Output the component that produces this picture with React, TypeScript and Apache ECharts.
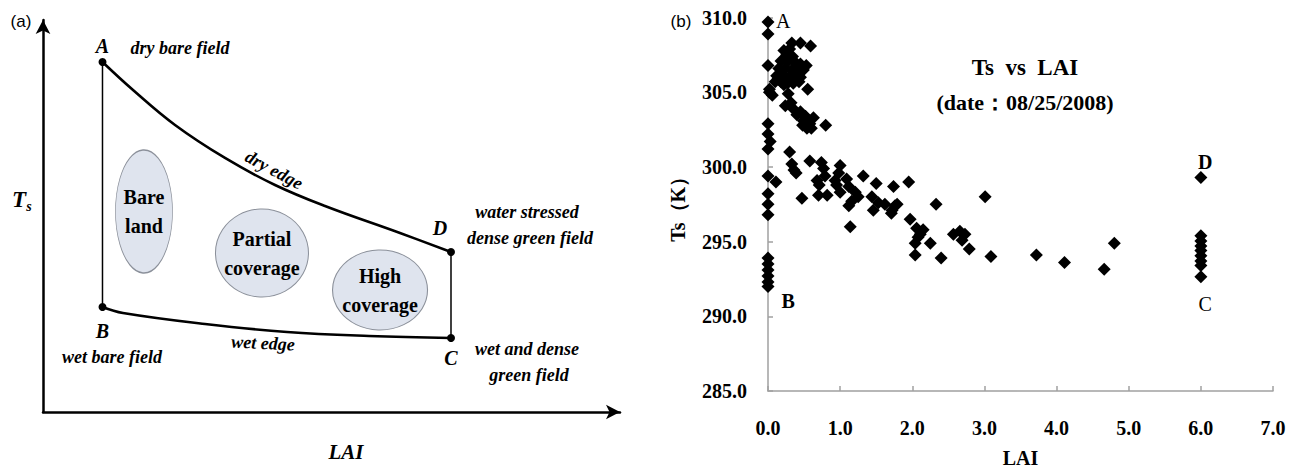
import { useEffect, useRef } from 'react';
import * as echarts from 'echarts';

const SERIF = '"Liberation Serif", "Times New Roman", serif';
const SANS = '"Liberation Sans", Arial, sans-serif';

// ---------- Panel (b): Ts vs LAI scatter ----------
const xTickRange = [0, 7];
const yTickRange = [285, 310];

const tsVsLai: [number, number][] = [
  // LAI ~ 0 column
  [0.0, 309.7], [0.0, 308.9], [0.0, 306.8], [0.02, 305.2], [0.06, 304.8], [0.02, 305.0],
  [0.0, 302.9], [0.0, 302.2], [0.03, 301.7], [0.0, 301.2], [0.0, 299.4], [0.0, 298.2],
  [0.0, 297.5], [0.0, 296.8], [0.0, 293.9], [0.0, 293.5], [0.0, 293.1], [0.0, 292.7],
  [0.0, 292.3], [0.0, 292.0], [0.11, 299.0],
  // top row
  [0.33, 308.3], [0.45, 308.3], [0.59, 308.1],
  // dense cluster
  [0.22, 307.8], [0.3, 307.9], [0.26, 307.5], [0.34, 307.4], [0.18, 307.1], [0.28, 307.1],
  [0.38, 307.0], [0.45, 306.9], [0.53, 306.8], [0.15, 306.6], [0.24, 306.6], [0.33, 306.5],
  [0.41, 306.4], [0.49, 306.5], [0.12, 306.1], [0.2, 306.2], [0.29, 306.0], [0.37, 306.0],
  [0.45, 306.0], [0.1, 305.7], [0.18, 305.7], [0.27, 305.6], [0.35, 305.6], [0.43, 305.7],
  [0.14, 305.9], [0.22, 305.5], [0.55, 305.2],
  // descending band
  [0.28, 304.9], [0.24, 304.1], [0.35, 303.9], [0.4, 303.5], [0.32, 304.3], [0.45, 303.7],
  [0.49, 303.1], [0.58, 302.9], [0.54, 302.6], [0.63, 303.3], [0.52, 303.4], [0.6, 302.6],
  [0.48, 302.8], [0.8, 302.8], [0.56, 303.1],
  // middle region
  [0.3, 301.0], [0.33, 300.2], [0.36, 299.8], [0.39, 299.6], [0.47, 297.9], [0.58, 300.4],
  [0.74, 300.3], [0.77, 299.9], [0.79, 299.4], [0.68, 299.1], [0.71, 298.8], [0.7, 298.1],
  [0.82, 298.1], [1.0, 300.1], [0.98, 299.6], [0.93, 299.1], [0.95, 298.8], [1.0, 298.3],
  [1.09, 299.2], [1.12, 298.7], [1.21, 298.3], [1.25, 298.0], [1.16, 297.7], [1.12, 297.4],
  [1.14, 296.0], [1.32, 299.4], [1.44, 298.0], [1.5, 298.9], [1.53, 297.6], [1.46, 297.1],
  [1.62, 297.5], [1.74, 298.7], [1.72, 297.1], [1.79, 297.5], [1.95, 299.0], [1.76, 297.4],
  [1.71, 296.9], [1.97, 296.5],
  [2.06, 295.9], [2.15, 295.8], [2.11, 295.5], [2.04, 294.9], [2.25, 294.9], [2.04, 294.1],
  [2.33, 297.5], [2.4, 293.9], [2.08, 295.3],
  [2.57, 295.5], [2.66, 295.7], [2.73, 295.5], [2.69, 295.1], [2.79, 294.5], [3.01, 298.0],
  [3.09, 294.0], [3.72, 294.1], [4.11, 293.6], [4.66, 293.15], [4.8, 294.9],
  // LAI = 6 column
  [6.0, 299.3], [6.0, 295.4], [6.0, 295.05], [6.0, 294.7], [6.0, 294.4], [6.0, 294.05],
  [6.0, 293.7], [6.0, 293.4], [6.0, 292.65],
];

const cornerNamesB = ['A', 'B', 'C', 'D'];
const cornerLaiB = [0.21, 0.28, 6.06, 6.06];
const cornerTsB = [309.8, 291.0, 290.85, 300.3];

// ---------- Panel (a): conceptual triangle (abstract units 0-100) ----------
const dryEdgeX = [10.31, 15.6, 22.88, 31.54, 40.21, 48.87, 61.87, 70.71];
const dryEdgeY = [89.29, 82.14, 73.21, 64.8, 57.91, 52.55, 45.66, 40.82];
const wetEdgeX = [10.31, 13.86, 28.08, 42.29, 56.5, 70.71];
const wetEdgeY = [26.79, 25.26, 22.45, 20.41, 19.39, 18.88];

const cornerNamesA = ['A', 'B', 'C', 'D'];
const cornerXA = [10.31, 10.31, 70.71, 70.71];
const cornerYA = [89.29, 26.79, 18.88, 40.82];

const zoneNames = ['Bare\nland', 'Partial\ncoverage', 'High\ncoverage'];
const zoneX = [17.5, 37.95, 58.41];
const zoneY = [51.15, 40.56, 31.12];
const zoneSizes = [[57, 123], [93, 88], [95, 80]];

export default function App() {
  const ref = useRef<HTMLDivElement>(null);

  useEffect(() => {
    if (!ref.current) return;
    const chart = echarts.init(ref.current, undefined, { renderer: 'svg' });

    const italic = (text: string, x: number, y: number, size = 18, rotation = 0) => ({
      type: 'text',
      x,
      y,
      rotation,
      style: {
        text,
        fontFamily: SERIF,
        fontStyle: 'italic',
        fontWeight: 'bold',
        fontSize: size,
        fill: '#000',
        align: 'center',
        verticalAlign: 'middle',
      },
    });

    const pointLabelPos: any[] = [
      { position: 'top', distance: 2 },
      { position: 'bottom', distance: 10 },
      { position: 'bottom', distance: 6 },
      { position: 'top', distance: 10, offset: [-11, 0] },
    ];

    const bLabelWeight = ['normal', 'bold', 'normal', 'bold'];

    const option: any = {
      animation: false,
      backgroundColor: '#fff',
      grid: [
        { left: 768, top: 17.6, right: 26, bottom: 75 },
        { left: 43, top: 20, width: 577, height: 392 },
      ],
      xAxis: [
        {
          gridIndex: 0,
          type: 'value',
          min: xTickRange[0],
          max: xTickRange[1],
          interval: 1,
          axisLine: { show: true, lineStyle: { color: '#a0a0a0', width: 1.5 } },
          axisTick: { show: true, inside: true, length: 5, lineStyle: { color: '#a0a0a0', width: 1.5 } },
          splitLine: { show: false },
          axisLabel: {
            formatter: (v: number) => v.toFixed(1),
            fontFamily: SERIF,
            fontWeight: 'bold',
            fontSize: 20,
            color: '#000',
            margin: 27,
          },
          name: 'LAI',
          nameLocation: 'middle',
          nameGap: 57,
          nameTextStyle: { fontFamily: SERIF, fontWeight: 'bold', fontSize: 20, color: '#000' },
        },
        {
          gridIndex: 1,
          type: 'value',
          min: 0,
          max: 100,
          axisLine: {
            show: true,
            onZero: false,
            symbol: ['none', 'arrow'],
            symbolSize: [11, 14],
            lineStyle: { color: '#000', width: 2.5 },
          },
          axisTick: { show: false },
          axisLabel: { show: false },
          splitLine: { show: false },
        },
      ],
      yAxis: [
        {
          gridIndex: 0,
          type: 'value',
          min: yTickRange[0],
          max: yTickRange[1],
          interval: 5,
          axisLine: { show: true, lineStyle: { color: '#a0a0a0', width: 1.5 } },
          axisTick: { show: true, inside: true, length: 5, lineStyle: { color: '#a0a0a0', width: 1.5 } },
          splitLine: { show: false },
          axisLabel: {
            formatter: (v: number) => v.toFixed(1),
            fontFamily: SERIF,
            fontWeight: 'bold',
            fontSize: 20,
            color: '#000',
            margin: 21,
          },
          name: 'Ts（K）',
          nameLocation: 'middle',
          nameGap: 80,
          nameTextStyle: { fontFamily: SERIF, fontWeight: 'bold', fontSize: 20, color: '#000' },
        },
        {
          gridIndex: 1,
          type: 'value',
          min: 0,
          max: 100,
          axisLine: {
            show: true,
            onZero: false,
            symbol: ['none', 'arrow'],
            symbolSize: [11, 14],
            lineStyle: { color: '#000', width: 2.5 },
          },
          axisTick: { show: false },
          axisLabel: { show: false },
          splitLine: { show: false },
        },
      ],
      series: [
        {
          type: 'scatter',
          xAxisIndex: 0,
          yAxisIndex: 0,
          symbol: 'diamond',
          symbolSize: 13,
          itemStyle: { color: '#000', opacity: 1 },
          data: tsVsLai,
        },
        {
          type: 'scatter',
          xAxisIndex: 0,
          yAxisIndex: 0,
          symbolSize: 0,
          itemStyle: { opacity: 1 },
          data: cornerNamesB.map((n, i) => ({
            name: n,
            value: [cornerLaiB[i], cornerTsB[i]],
            label: { fontWeight: bLabelWeight[i] },
          })),
          label: {
            show: true,
            position: 'inside',
            formatter: '{b}',
            fontFamily: SERIF,
            fontSize: 20,
            color: '#000',
          },
        },
        // panel (a)
        {
          type: 'scatter',
          xAxisIndex: 1,
          yAxisIndex: 1,
          symbol: 'circle',
          data: zoneNames.map((n, i) => ({
            name: n,
            value: [zoneX[i], zoneY[i]],
            symbolSize: zoneSizes[i],
          })),
          itemStyle: { color: '#dfe4ee', borderColor: '#8b909a', borderWidth: 1, opacity: 1 },
          label: {
            show: true,
            position: 'inside',
            formatter: '{b}',
            fontFamily: SERIF,
            fontWeight: 'bold',
            fontSize: 20,
            lineHeight: 29,
            color: '#000',
          },
        },
        {
          type: 'line',
          xAxisIndex: 1,
          yAxisIndex: 1,
          smooth: 0.4,
          symbol: 'none',
          lineStyle: { color: '#000', width: 2.6 },
          data: dryEdgeX.map((x, i) => [x, dryEdgeY[i]]),
        },
        {
          type: 'line',
          xAxisIndex: 1,
          yAxisIndex: 1,
          smooth: 0.4,
          symbol: 'none',
          lineStyle: { color: '#000', width: 2.6 },
          data: wetEdgeX.map((x, i) => [x, wetEdgeY[i]]),
        },
        {
          type: 'line',
          xAxisIndex: 1,
          yAxisIndex: 1,
          symbol: 'none',
          lineStyle: { color: '#000', width: 1.5 },
          data: [
            [cornerXA[0], cornerYA[0]],
            [cornerXA[1], cornerYA[1]],
          ],
        },
        {
          type: 'line',
          xAxisIndex: 1,
          yAxisIndex: 1,
          symbol: 'none',
          lineStyle: { color: '#000', width: 1.5 },
          data: [
            [cornerXA[3], cornerYA[3]],
            [cornerXA[2], cornerYA[2]],
          ],
        },
        {
          type: 'scatter',
          xAxisIndex: 1,
          yAxisIndex: 1,
          symbol: 'circle',
          symbolSize: 8,
          itemStyle: { color: '#000', opacity: 1 },
          data: cornerNamesA.map((n, i) => ({
            name: n,
            value: [cornerXA[i], cornerYA[i]],
            label: pointLabelPos[i],
          })),
          label: {
            show: true,
            formatter: '{b}',
            fontFamily: SERIF,
            fontStyle: 'italic',
            fontWeight: 'bold',
            fontSize: 20,
            color: '#000',
          },
        },
      ],
      graphic: [
        {
          type: 'text',
          x: 21,
          y: 21,
          style: { text: '(a)', fontFamily: SANS, fontSize: 17, fill: '#000', align: 'center', verticalAlign: 'middle' },
        },
        {
          type: 'text',
          x: 681,
          y: 21,
          style: { text: '(b)', fontFamily: SANS, fontSize: 17, fill: '#000', align: 'center', verticalAlign: 'middle' },
        },
        italic('T', 19, 199, 23),
        italic('s', 29, 206, 14),
        italic('dry bare field', 180, 48, 18),
        italic('dry edge', 274, 170, 18, -0.49),
        italic('water stressed', 527, 212, 18),
        italic('dense green field', 530, 238, 18),
        italic('wet bare field', 112, 357, 18),
        italic('wet edge', 263, 343, 18, -0.05),
        italic('wet and dense', 527, 349, 18),
        italic('green field', 529, 375, 18),
        italic('LAI', 346, 452, 21),
        {
          type: 'text',
          x: 1025,
          y: 67,
          style: {
            text: 'Ts  vs  LAI',
            fontFamily: SERIF,
            fontWeight: 'bold',
            fontSize: 23,
            fill: '#000',
            align: 'center',
            verticalAlign: 'middle',
          },
        },
        {
          type: 'text',
          x: 1025,
          y: 102,
          style: {
            text: '(date：08/25/2008)',
            fontFamily: SERIF,
            fontWeight: 'bold',
            fontSize: 22,
            fill: '#000',
            align: 'center',
            verticalAlign: 'middle',
          },
        },
      ],
    };

    chart.setOption(option);
    return () => chart.dispose();
  }, []);

  return (
    <div
      ref={ref}
      style={{ position: 'fixed', left: 0, top: 0, width: 1299, height: 473, background: '#fff' }}
    />
  );
}
